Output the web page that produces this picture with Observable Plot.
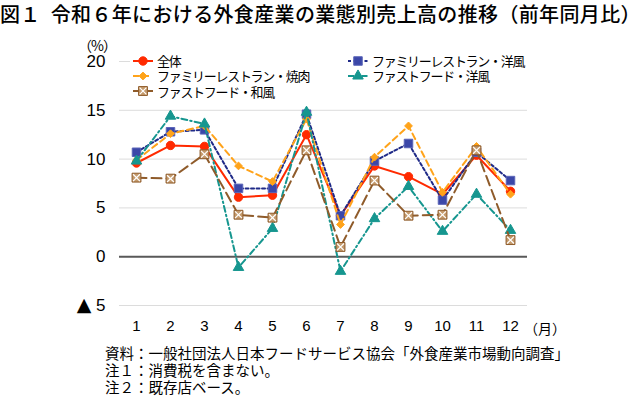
<!DOCTYPE html>
<html><head><meta charset="utf-8">
<script src="https://cdn.jsdelivr.net/npm/d3@7"></script>
<script src="https://cdn.jsdelivr.net/npm/@observablehq/plot@0.6"></script>
<style>
body{margin:0;background:#fff;font-family:"Noto Sans CJK JP","Noto Sans",sans-serif;color:#000;}
#wrap{position:relative;width:640px;height:399px;overflow:hidden;background:#fff;}
#title{position:absolute;left:0;top:2px;font-size:20px;font-weight:500;line-height:24px;height:24px;white-space:nowrap;letter-spacing:0.35px;}
#chart{position:absolute;left:0;top:34px;}
#unit{position:absolute;left:74px;top:37px;width:46px;text-align:center;font-size:14px;line-height:16px;height:16px;letter-spacing:-1px;}
#month{position:absolute;left:524px;top:319px;font-size:14px;line-height:18px;height:18px;white-space:nowrap;}
#legend{position:absolute;left:130px;top:52px;width:397px;height:46px;background:#fff;}
.li{position:absolute;height:15px;display:flex;align-items:center;}
.li svg{flex:none;margin-right:2px;}
.li span{display:block;font-size:13px;line-height:15px;height:15px;white-space:nowrap;letter-spacing:-1.3px;overflow:visible;}
#notes{position:absolute;left:105px;top:344px;font-size:14.5px;}
#notes div{line-height:17px;height:17px;white-space:nowrap;overflow:visible;}
</style></head><body>
<div id="wrap">
  <div id="title"><span>図１</span><span style="margin-left:10px">令和６年における外食産業の業態別売上高の推移（前年同月比）</span></div>
  <div id="chart"></div>
  <div id="unit">（%）</div>
  <div id="month">（月）</div>
  <div id="legend"></div>
  <div id="notes"><div>資料：一般社団法人日本フードサービス協会「外食産業市場動向調査」</div><div>注１：消費税を含まない。</div><div>注２：既存店ベース。</div></div>
</div>
<script>
const months = [1,2,3,4,5,6,7,8,9,10,11,12];
const seriesNames = ["全体","ファミリーレストラン・洋風","ファミリーレストラン・焼肉","ファストフード・洋風","ファストフード・和風"];
const total      = [9.6,11.4,11.3,6.1,6.3,12.5,4.2,9.3,8.2,6.4,10.4,6.7];
const frWestern  = [10.7,12.8,13.0,7.0,7.0,14.6,4.2,9.8,11.6,5.8,10.7,7.8];
const frYakiniku = [9.9,12.6,13.4,9.3,7.7,14.1,3.3,10.2,13.4,6.6,11.3,6.4];
const ffWestern  = [9.8,14.4,13.6,-1.1,2.9,14.8,-1.5,3.9,7.2,2.6,6.4,2.7];
const ffJapanese = [8.1,8.0,10.5,4.3,4.0,10.9,1.0,7.8,4.2,4.3,10.9,1.7];
const yTicks = [-5,0,5,10,15,20];

const seriesValues = [total, frWestern, frYakiniku, ffWestern, ffJapanese];
const styles = [
  {stroke:"#ff2a00", dash:null,        symbol:"circle",   fill:"#ff2a00", mstroke:"#ff2a00", r:4.2},
  {stroke:"#1f2a88", dash:"3,2.5",     symbol:"square",   fill:"#3b47a8", mstroke:"#5a64b8", r:4.8},
  {stroke:"#ffa31a", dash:"6,4",       symbol:"diamond2", fill:"#ffa31a", mstroke:"#ffa31a", r:3.5},
  {stroke:"#16968f", dash:"6,3,1.5,3", symbol:"triangle", fill:"#16968f", mstroke:"#16968f", r:3.9},
  {stroke:"#8f5b2a", dash:"10,5",      symbol:"square",   fill:"#c49a6c", mstroke:"#8f5b2a", r:5, cross:true}
];

const marks = [
  Plot.ruleY(yTicks.filter(d => d !== 0), {stroke:"#dcdcdc", strokeWidth:1}),
  Plot.ruleY([0], {stroke:"#595959", strokeWidth:2}),
  Plot.axisY({ticks:yTicks, tickSize:0, tickPadding:14, fontSize:17, label:null,
              tickFormat: d => d < 0 ? `▲ ${-d}` : `${d}`}),
  Plot.axisX({ticks:months, tickSize:0, tickPadding:15, fontSize:15, label:null, tickFormat: d => `${d}`})
];
seriesValues.forEach((vals, k) => {
  const st = styles[k];
  const pts = months.map((m, i) => ({m, v: vals[i], s: seriesNames[k]}));
  marks.push(Plot.line(pts, {x:"m", y:"v", stroke:st.stroke, strokeWidth:2, strokeDasharray:st.dash}));
  marks.push(Plot.dot(pts, {x:"m", y:"v", symbol:st.symbol, fill:st.fill, stroke:st.mstroke, strokeWidth:1, r:st.r}));
  if (st.cross) marks.push(Plot.dot(pts, {x:"m", y:"v", symbol:"times", stroke:"#fff", strokeWidth:1.2, r:3.2}));
});

const chart = Plot.plot({
  width:640, height:306,
  marginLeft:119, marginRight:113, marginTop:27, marginBottom:35,
  x:{type:"linear", domain:[0.5,12.5]},
  y:{domain:[-5,20]},
  style:{fontFamily:"'Liberation Sans', Arial, sans-serif", color:"#000", background:"#fff"},
  marks
});
// enlarge the ▲ glyph of the negative tick
d3.select(chart).selectAll("text").each(function() {
  const t = this.textContent;
  if (t.startsWith("▲")) {
    const el = d3.select(this);
    el.text(null);
    el.append("tspan").attr("font-size", 19).attr("font-family", "'DejaVu Sans', sans-serif").text("▲");
    el.append("tspan").text(t.slice(1));
  }
});
document.getElementById("chart").appendChild(chart);

// legend
const leg = document.getElementById("legend");
const legPos = [[3,1],[218,1],[3,16],[218,16],[3,31.5]];
const symMap = {circle:d3.symbolCircle, square:d3.symbolSquare, diamond2:d3.symbolDiamond2, triangle:d3.symbolTriangle};
seriesNames.forEach((name, k) => {
  const st = styles[k];
  const div = document.createElement("div");
  div.className = "li";
  div.style.left = legPos[k][0] + "px";
  div.style.top = legPos[k][1] + "px";
  const size = Math.PI * st.r * st.r;
  let svg = `<svg width="22" height="14" viewBox="0 0 22 14">` +
    `<line x1="0" x2="20" y1="7" y2="7" stroke="${st.stroke}" stroke-width="2" ${st.dash ? `stroke-dasharray="${st.dash}"` : ""}/>` +
    `<path transform="translate(10,7)" d="${d3.symbol(symMap[st.symbol], size)()}" fill="${st.fill}" stroke="${st.mstroke}" stroke-width="1"/>`;
  if (st.cross) svg += `<path transform="translate(10,7)" d="${d3.symbol(d3.symbolTimes, Math.PI*3.2*3.2)()}" fill="none" stroke="#fff" stroke-width="1.2"/>`;
  svg += `</svg>`;
  div.innerHTML = svg + `<span>${name}</span>`;
  leg.appendChild(div);
});
</script>
</body></html>
